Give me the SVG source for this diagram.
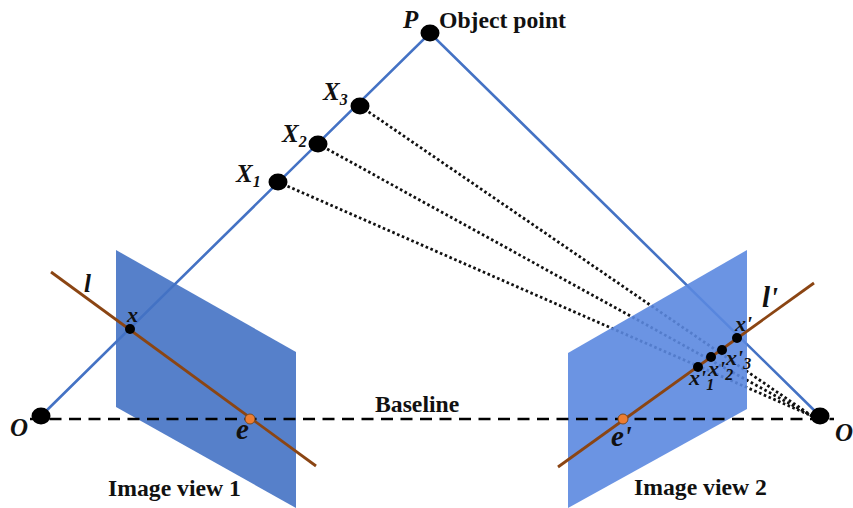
<svg xmlns="http://www.w3.org/2000/svg" width="853" height="508" viewBox="0 0 853 508">
<style>
.ray{stroke:#4472c4;stroke-width:2.6;fill:none}
.dot{stroke:#111;stroke-width:2.8;stroke-dasharray:2.6 2.6;fill:none}
.epi{stroke:#8b4513;stroke-width:2.8;fill:none}
.base{stroke:#000;stroke-width:2.6;stroke-dasharray:12 7.5;fill:none}
.pt{fill:#000}
.ep{fill:#ed7d31;stroke:#7a4a20;stroke-width:1}
text{font-family:"Liberation Serif","Times New Roman",serif;font-weight:bold;fill:#111}
.lb{font-size:23.7px}
.it{font-style:italic;font-size:25px}
.big{font-style:italic;font-size:29px}
.sm{font-style:italic;font-size:22px}
.sub{font-style:italic;font-size:16px}
</style>
<g id="connectors">
<path class="ray" d="M41 416L430 33L820 416"/>
<path class="dot" d="M278 182L812 416"/>
<path class="dot" d="M318 144L812 416"/>
<path class="dot" d="M360 106L812 416"/>
</g>
<g id="plane-1"><polygon points="116,250 296,352 296,508 116,407" fill="#4472c4" fill-opacity="0.9"/></g>
<g id="plane-2"><polygon points="747,250 568,353 568,508 747,409" fill="#5b88e0" fill-opacity="0.9"/></g>
<g id="lines">
<path class="base" d="M30 419H834"/>
<path class="epi" d="M51 272L316 466"/>
<path class="epi" d="M558 467L814 283"/>
</g>
<g id="P"><ellipse class="pt" cx="430" cy="33" rx="9.5" ry="8.5"/><text class="it" x="403" y="28">P</text></g>
<g id="object-label"><text class="lb" x="439" y="28">Object point</text></g>
<g id="X3"><ellipse class="pt" cx="360" cy="106" rx="9.5" ry="8.5"/><text class="it" x="323" y="100">X<tspan class="sub" dy="5">3</tspan></text></g>
<g id="X2"><ellipse class="pt" cx="318" cy="144" rx="9.5" ry="8.5"/><text class="it" x="282" y="142">X<tspan class="sub" dy="5">2</tspan></text></g>
<g id="X1"><ellipse class="pt" cx="278" cy="182" rx="9.5" ry="8.5"/><text class="it" x="236" y="182">X<tspan class="sub" dy="5">1</tspan></text></g>
<g id="O-left"><ellipse class="pt" cx="41" cy="416" rx="9.5" ry="8.5"/><text class="it" x="10" y="436">O</text></g>
<g id="O-right"><ellipse class="pt" cx="820" cy="416" rx="9.5" ry="8.5"/><text class="it" x="835" y="441">O</text></g>
<g id="x"><circle class="pt" cx="130" cy="329" r="5"/><text class="sm" x="127" y="322">x</text></g>
<g id="l"><text class="it" x="84" y="292">l</text></g>
<g id="e"><circle class="ep" cx="250" cy="419" r="5"/><text class="big" x="236" y="439">e</text></g>
<g id="e-prime"><circle class="ep" cx="623" cy="419" r="5"/><text class="big" x="611" y="446">e'</text></g>
<g id="l-prime"><text class="big" x="762" y="307">l'</text></g>
<g id="x-prime"><circle class="pt" cx="737" cy="338" r="5"/><text class="sm" x="735" y="331">x'</text></g>
<g id="x-prime-3"><circle class="pt" cx="722" cy="350" r="5"/><text class="sm" x="726" y="365">x'<tspan class="sub" dy="4">3</tspan></text></g>
<g id="x-prime-2"><circle class="pt" cx="711" cy="357" r="5"/><text class="sm" x="708" y="376">x'<tspan class="sub" dy="4">2</tspan></text></g>
<g id="x-prime-1"><circle class="pt" cx="698" cy="367" r="5"/><text class="sm" x="689" y="385">x'<tspan class="sub" dy="5">1</tspan></text></g>
<g id="baseline-label"><text class="lb" x="375" y="412">Baseline</text></g>
<g id="view-1-label"><text class="lb" x="108" y="496">Image view 1</text></g>
<g id="view-2-label"><text class="lb" x="634" y="495">Image view 2</text></g>
</svg>
